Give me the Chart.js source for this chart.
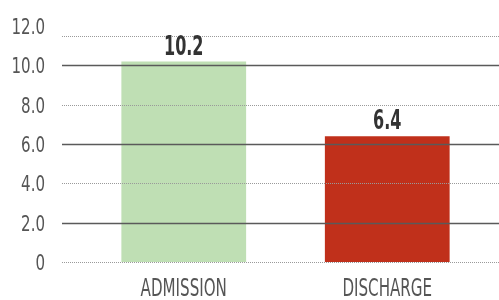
<!DOCTYPE html>
<html>
<head>
<meta charset="utf-8">
<script src="https://cdn.jsdelivr.net/npm/chart.js@4"></script>
<style>
    html, body { margin: 0; padding: 0; background: #fff; }
    #wrap { width: 499px; height: 300px; position: relative; }
</style>
</head>
<body>
<div id="wrap"><canvas id="chart"></canvas></div>
<script>
const categories = ['ADMISSION', 'DISCHARGE'];
const values = [10.2, 6.4];
const barColors = ['#bfdfb4', '#c0301b'];
const yTickValues = [0, 2, 4, 6, 8, 10, 12];
const yTickLabels = ['0', '2.0', '4.0', '6.0', '8.0', '10.0', '12.0'];

const FONT = "'DejaVu Sans Condensed', 'DejaVu Sans', sans-serif";

// squeeze text horizontally to get the condensed look of the original
function narrowText(ctx, text, x, y, align, sx) {
    ctx.save();
    ctx.translate(x, y);
    ctx.scale(sx, 1);
    ctx.textAlign = align;
    ctx.fillText(text, 0, 0);
    ctx.restore();
}

// Grid lines + all labels drawn over the bars, like the original
const overlay = {
    id: 'overlay',
    afterDatasetsDraw(chart) {
        const ctx = chart.ctx;
        const y = chart.scales.y;
        const area = chart.chartArea;
        ctx.save();
        yTickValues.forEach((v, i) => {
            const py = Math.max(y.getPixelForValue(v), area.top);
            const solid = i % 2 === 1;
            ctx.beginPath();
            if (solid) {
                ctx.strokeStyle = '#5a5a5a';
                ctx.lineWidth = 1.6;
                ctx.setLineDash([]);
            } else {
                ctx.strokeStyle = '#9a9a9a';
                ctx.lineWidth = 1;
                ctx.setLineDash([1, 1]);
            }
            const yy = Math.round(py) + 0.5;
            ctx.moveTo(62, yy);
            ctx.lineTo(chart.width, yy);
            ctx.stroke();

            ctx.fillStyle = '#555';
            ctx.font = '22px ' + FONT;
            ctx.textBaseline = 'alphabetic';
            narrowText(ctx, yTickLabels[i], 45, y.getPixelForValue(v) + 8, 'right', 0.76);
        });

        const meta = chart.getDatasetMeta(0);
        ctx.textBaseline = 'alphabetic';
        meta.data.forEach((bar, i) => {
            // value above bar
            ctx.fillStyle = '#333';
            ctx.font = 'bold 27px ' + FONT;
            narrowText(ctx, values[i].toFixed(1), bar.x, bar.y - 7, 'center', 0.66);
            // category below axis
            ctx.fillStyle = '#555';
            ctx.font = '24px ' + FONT;
            narrowText(ctx, categories[i], bar.x, 296, 'center', 0.7);
        });
        ctx.restore();
    }
};

new Chart(document.getElementById('chart'), {
    type: 'bar',
    data: {
        labels: categories,
        datasets: [{
            data: values,
            backgroundColor: barColors,
            borderWidth: 0,
            barPercentage: 0.613,
            categoryPercentage: 1
        }]
    },
    options: {
        responsive: true,
        maintainAspectRatio: false,
        animation: false,
        events: [],
        layout: {
            padding: { left: 82, right: 10, top: 36, bottom: 38 }
        },
        plugins: {
            legend: { display: false },
            tooltip: { enabled: false }
        },
        scales: {
            y: {
                display: false,
                min: 0,
                max: 11.5
            },
            x: {
                display: false
            }
        }
    },
    plugins: [overlay]
});
</script>
</body>
</html>
